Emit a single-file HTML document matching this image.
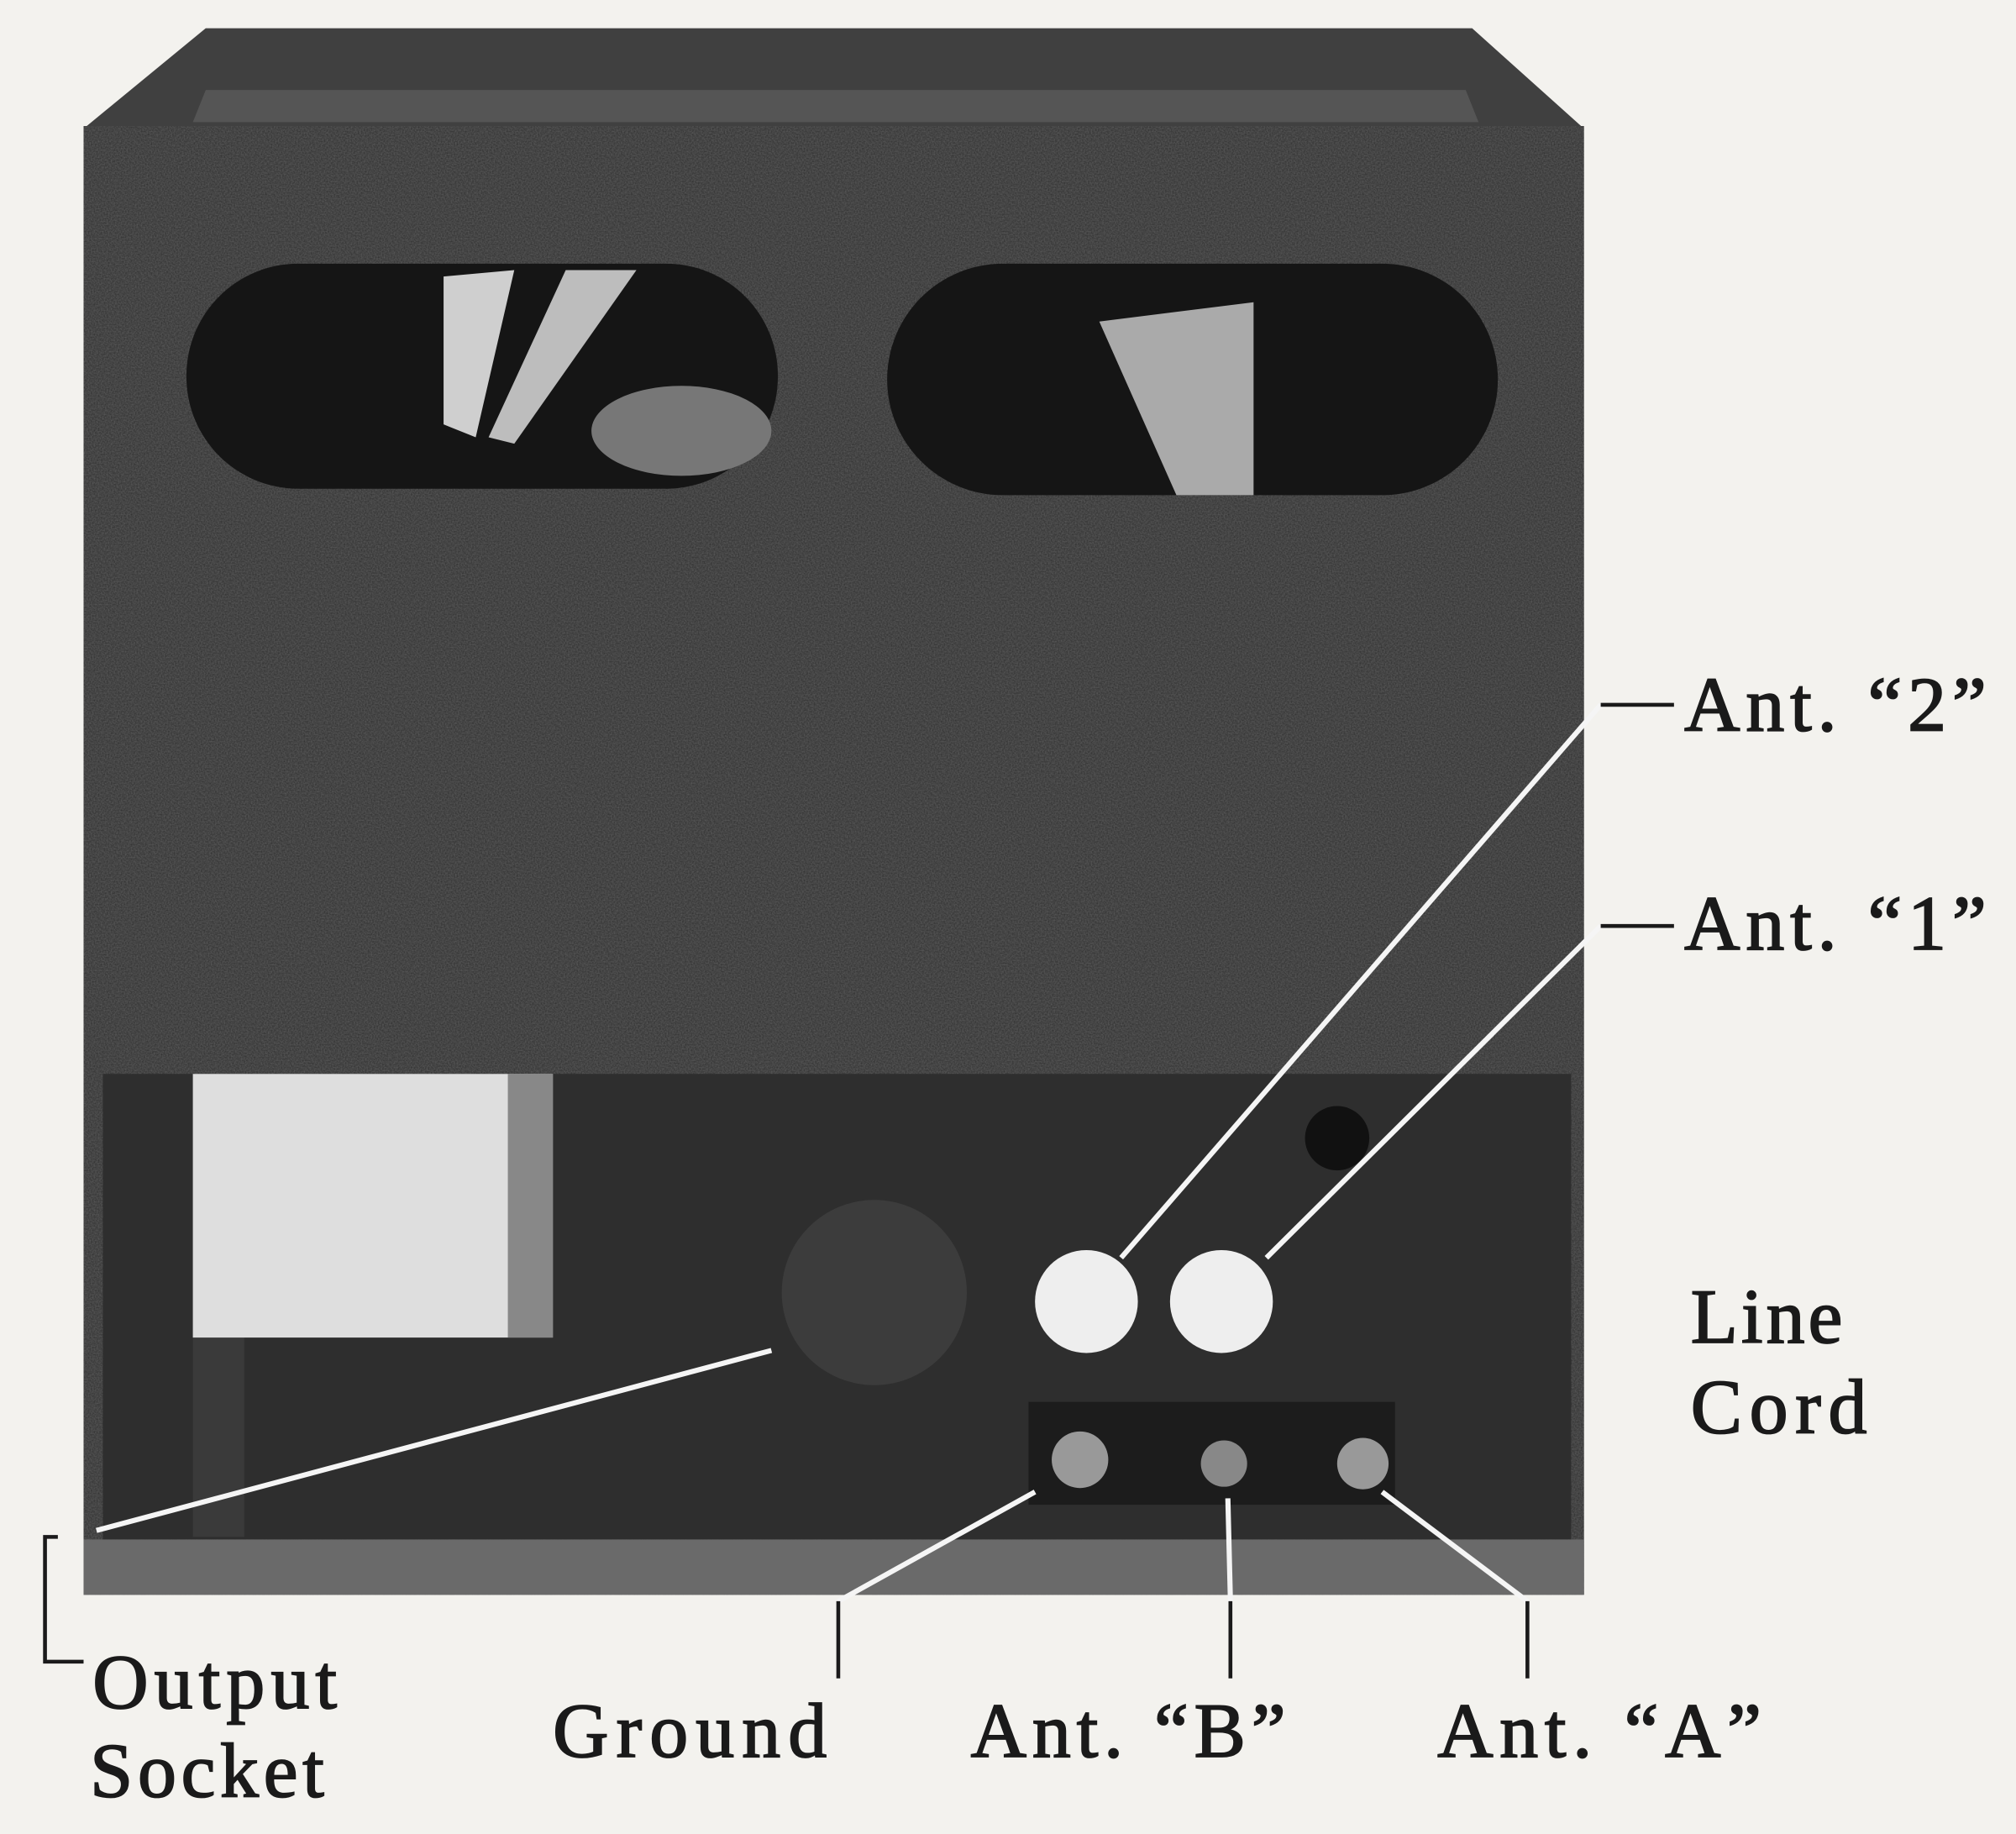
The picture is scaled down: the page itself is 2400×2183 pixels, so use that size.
<!DOCTYPE html>
<html><head><meta charset="utf-8"><style>
html,body{margin:0;padding:0;background:#f3f2ee;}
svg{display:block}
text{font-family:"Liberation Serif",serif;fill:#1a1a1a;stroke:#1a1a1a;stroke-width:1.2}
</style></head><body>
<svg width="2400" height="2183" viewBox="0 0 1568 1426" preserveAspectRatio="none" xmlns="http://www.w3.org/2000/svg">
<defs>
<filter id="n" x="0" y="0" width="100%" height="100%">
<feTurbulence type="fractalNoise" baseFrequency="0.9" numOctaves="2" seed="3"/>
<feColorMatrix type="matrix" values="0 0 0 0 0  0 0 0 0 0  0 0 0 0 0  0 0 0 -1.2 1.1"/>
<feComposite in2="SourceGraphic" operator="in"/>
</filter>
</defs>
<rect width="1568" height="1426" fill="#f3f2ee"/>
<polygon points="65,100 160,22 1145,22 1232,100" fill="#404040"/>
<polygon points="160,70 1140,70 1150,95 150,95" fill="#555"/>
<rect x="65" y="98" width="1167" height="1142" fill="#5a5a5a"/>
<rect x="65" y="98" width="1167" height="1142" fill="#000" filter="url(#n)" opacity="0.45"/>
<rect x="145" y="205" width="460" height="175" rx="87" fill="#151515"/>
<polygon points="345,215 400,210 370,340 345,330" fill="#cfcfcf"/>
<polygon points="440,210 495,210 400,345 380,340" fill="#bdbdbd"/>
<ellipse cx="530" cy="335" rx="70" ry="35" fill="#777"/>
<rect x="690" y="205" width="475" height="180" rx="90" fill="#151515"/>
<polygon points="855,250 975,235 975,385 915,385" fill="#aaa"/>
<rect x="80" y="835" width="1142" height="362" fill="#2e2e2e"/>
<rect x="150" y="840" width="40" height="355" fill="#3a3a3a"/>
<rect x="150" y="835" width="280" height="205" fill="#dedede"/>
<rect x="395" y="835" width="35" height="205" fill="#888"/>
<circle cx="680" cy="1005" r="72" fill="#3c3c3c"/>
<circle cx="1040" cy="885" r="25" fill="#111"/>
<circle cx="845" cy="1012" r="40" fill="#eee"/>
<circle cx="950" cy="1012" r="40" fill="#eee"/>
<rect x="800" y="1090" width="285" height="80" fill="#1c1c1c"/>
<circle cx="840" cy="1135" r="22" fill="#999"/>
<circle cx="952" cy="1138" r="18" fill="#888"/>
<circle cx="1060" cy="1138" r="20" fill="#999"/>
<rect x="65" y="1197" width="1167" height="43" fill="#6a6a6a"/>
<g stroke="#f5f5f5" stroke-width="4" fill="none">
<line x1="1245" y1="548" x2="872" y2="978"/>
<line x1="1245" y1="720" x2="985" y2="978"/>
<line x1="75" y1="1190" x2="600" y2="1050"/>
<line x1="652" y1="1245" x2="805" y2="1160"/>
<line x1="957" y1="1245" x2="955" y2="1165"/>
<line x1="1188" y1="1245" x2="1075" y2="1160"/>
</g>
<g stroke="#1a1a1a" stroke-width="3" fill="none">
<line x1="1245" y1="548" x2="1302" y2="548"/>
<line x1="1245" y1="720" x2="1302" y2="720"/>
<polyline points="45,1195 35,1195 35,1292 65,1292"/>
<line x1="652" y1="1245" x2="652" y2="1305"/>
<line x1="957" y1="1245" x2="957" y2="1305"/>
<line x1="1188" y1="1245" x2="1188" y2="1305"/>
</g>
<g font-size="60">
<text x="1310" y="568" textLength="235">Ant. “2”</text>
<text x="1310" y="738" textLength="235">Ant. “1”</text>
<text x="1315" y="1044" textLength="118">Line</text>
<text x="1315" y="1114" textLength="137">Cord</text>
<text x="72" y="1328" textLength="190">Output</text>
<text x="70" y="1397" textLength="182">Socket</text>
<text x="430" y="1366" textLength="213">Ground</text>
<text x="755" y="1366" textLength="245">Ant. “B”</text>
<text x="1118" y="1366" textLength="252">Ant. “A”</text>
</g>
</svg>
</body></html>
